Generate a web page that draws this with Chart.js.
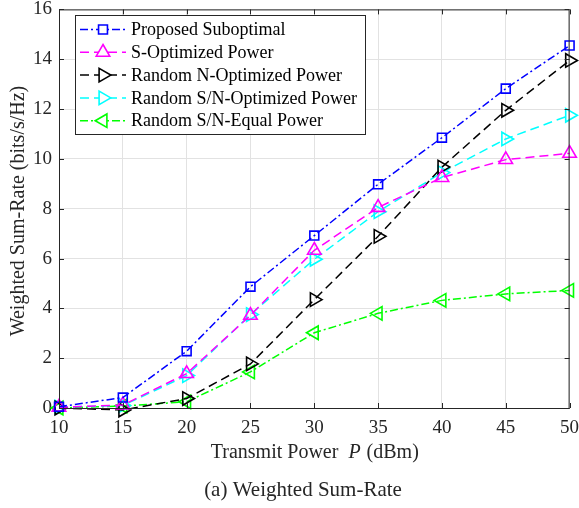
<!DOCTYPE html>
<html>
<head>
<meta charset="utf-8">
<script src="https://cdn.jsdelivr.net/npm/chart.js@4/dist/chart.umd.min.js"></script>
<style>
  html, body { margin: 0; padding: 0; background: #fff; }
  #wrap { width: 579px; height: 508px; }
</style>
</head>
<body>
<div id="wrap"><canvas id="sumRateChart" width="579" height="508"></canvas></div>
<script>
// ---- data ----
const xValues = [10, 15, 20, 25, 30, 35, 40, 45, 50];
const yTicks = [0, 2, 4, 6, 8, 10, 12, 14, 16];
const seriesNames = [
  "Proposed Suboptimal",
  "S-Optimized Power",
  "Random N-Optimized Power",
  "Random S/N-Optimized Power",
  "Random S/N-Equal Power"
];
const proposed = [0.05, 0.42, 2.28, 4.87, 6.92, 8.98, 10.85, 12.82, 14.55];
const sOptimized = [0.03, 0.12, 1.38, 3.72, 6.33, 8.05, 9.25, 9.97, 10.22];
const randomNOpt = [0.0, -0.08, 0.38, 1.77, 4.35, 6.89, 9.67, 11.95, 13.95];
const randomSNOpt = [0.03, 0.1, 1.3, 3.75, 5.97, 7.88, 9.45, 10.8, 11.75];
const randomSNEqual = [0.0, 0.08, 0.25, 1.45, 3.02, 3.8, 4.32, 4.58, 4.72];

const FONT = "'Liberation Serif', 'Times New Roman', serif";
const TEXT = "#262626";

// line / marker styles per series
const styles = [
  { color: "#0000ff", dash: [8, 3, 2, 3], point: "rect", radius: 6.3, rot: 0 },
  { color: "#ff00ff", dash: [9, 5], point: "triangle", radius: 7.8, rot: 0 },
  { color: "#000000", dash: [9, 5], point: "triangle", radius: 7.8, rot: 90 },
  { color: "#00ffff", dash: [9, 5], point: "triangle", radius: 7.8, rot: 90 },
  { color: "#00ff00", dash: [8, 3, 2, 3], point: "triangle", radius: 7.8, rot: -90 }
];
const allSeries = [proposed, sOptimized, randomNOpt, randomSNOpt, randomSNEqual];

function makeDataset(i) {
  const s = styles[i];
  return {
    label: seriesNames[i],
    data: xValues.map((x, k) => ({ x: x, y: allSeries[i][k] })),
    borderColor: s.color,
    borderWidth: 1.5,
    borderDash: s.dash,
    pointStyle: s.point,
    pointRadius: s.radius,
    pointRotation: s.rot,
    pointBorderColor: s.color,
    pointBackgroundColor: "rgba(0,0,0,0)",
    pointBorderWidth: 1.6,
    tension: 0,
    clip: false
  };
}

// frame, inward ticks, axis titles, caption, legend box
const decorPlugin = {
  id: "decor",
  afterDraw(chart) {
    const ctx = chart.ctx;
    const a = chart.chartArea;
    const xs = chart.scales.x, ys = chart.scales.y;
    ctx.save();
    ctx.strokeStyle = TEXT;
    ctx.lineWidth = 1;
    ctx.setLineDash([]);
    ctx.strokeRect(a.left + 0.5, a.top + 0.5, a.right - a.left - 1, a.bottom - a.top);
    // ticks inward on all four sides
    ctx.beginPath();
    xValues.forEach(v => {
      const px = Math.round(xs.getPixelForValue(v)) + 0.5;
      ctx.moveTo(px, a.bottom); ctx.lineTo(px, a.bottom - 5);
      ctx.moveTo(px, a.top); ctx.lineTo(px, a.top + 5);
    });
    yTicks.forEach(v => {
      const py = Math.round(ys.getPixelForValue(v)) + 0.5;
      ctx.moveTo(a.left, py); ctx.lineTo(a.left + 5, py);
      ctx.moveTo(a.right, py); ctx.lineTo(a.right - 5, py);
    });
    ctx.stroke();

    // y axis title
    ctx.fillStyle = TEXT;
    ctx.font = "20px " + FONT;
    ctx.textAlign = "center";
    ctx.textBaseline = "middle";
    ctx.save();
    ctx.translate(19, 211);
    ctx.rotate(-Math.PI / 2);
    ctx.fillText("Weighted Sum-Rate (bits/s/Hz)", 0, 0);
    ctx.restore();

    // x axis title with italic P
    const p1 = "Transmit Power  ", p2 = "P", p3 = " (dBm)";
    ctx.font = "20px " + FONT;
    const w1 = ctx.measureText(p1).width, w3 = ctx.measureText(p3).width;
    ctx.font = "italic 20px " + FONT;
    const w2 = ctx.measureText(p2).width;
    let tx = (a.left + a.right) / 2 - (w1 + w2 + w3) / 2;
    ctx.textAlign = "left";
    ctx.font = "20px " + FONT;
    ctx.fillText(p1, tx, 453);
    ctx.font = "italic 20px " + FONT;
    ctx.fillText(p2, tx + w1, 453);
    ctx.font = "20px " + FONT;
    ctx.fillText(p3, tx + w1 + w2 + 1, 453);

    // caption
    ctx.textAlign = "center";
    ctx.font = "21px " + FONT;
    ctx.fillText("(a) Weighted Sum-Rate", 303, 490);

    // legend
    const box = { x: 75.5, y: 15.5, w: 290, h: 119 };
    ctx.fillStyle = "#fff";
    ctx.fillRect(box.x, box.y, box.w, box.h);
    ctx.strokeStyle = TEXT;
    ctx.lineWidth = 1;
    ctx.strokeRect(box.x, box.y, box.w, box.h);
    ctx.textAlign = "left";
    ctx.font = "18px " + FONT;
    seriesNames.forEach((name, i) => {
      const s = styles[i];
      const ry = 29.5 + i * 22.8;
      ctx.strokeStyle = s.color;
      ctx.lineWidth = 1.5;
      ctx.setLineDash(s.dash);
      ctx.beginPath();
      ctx.moveTo(80, ry); ctx.lineTo(126, ry);
      ctx.stroke();
      ctx.setLineDash([]);
      ctx.fillStyle = "#fff";
      ctx.lineWidth = 1.6;
      Chart.helpers.drawPoint(ctx, {
        pointStyle: s.point, radius: s.radius, rotation: s.rot, borderWidth: 1.6
      }, 103, ry);
      ctx.fillStyle = "#000";
      ctx.fillText(name, 131, ry + 1);
    });
    ctx.restore();
  }
};

new Chart(document.getElementById("sumRateChart"), {
  type: "line",
  data: { datasets: allSeries.map((_, i) => makeDataset(i)) },
  options: {
    responsive: false,
    animation: false,
    layout: { padding: { left: 0, right: 9, top: 8, bottom: 0 } },
    plugins: { legend: { display: false }, tooltip: { enabled: false } },
    scales: {
      x: {
        type: "linear",
        min: 10, max: 50,
        afterFit(scale) { scale.height = 100; scale.paddingLeft = 0; scale.paddingRight = 0; },
        afterBuildTicks(scale) { scale.ticks = xValues.map(v => ({ value: v })); },
        grid: { color: "#e2e2e2", drawTicks: false },
        border: { display: false },
        ticks: { color: TEXT, font: { family: FONT, size: 19 }, padding: 9, maxRotation: 0 }
      },
      y: {
        min: 0, max: 16,
        afterFit(scale) { scale.width = 59; scale.paddingTop = 0; scale.paddingBottom = 0; },
        afterBuildTicks(scale) { scale.ticks = yTicks.map(v => ({ value: v })); },
        grid: { color: "#e2e2e2", drawTicks: false },
        border: { display: false },
        ticks: { color: TEXT, font: { family: FONT, size: 19 }, padding: 7 }
      }
    }
  },
  plugins: [decorPlugin]
});
</script>
</body>
</html>
